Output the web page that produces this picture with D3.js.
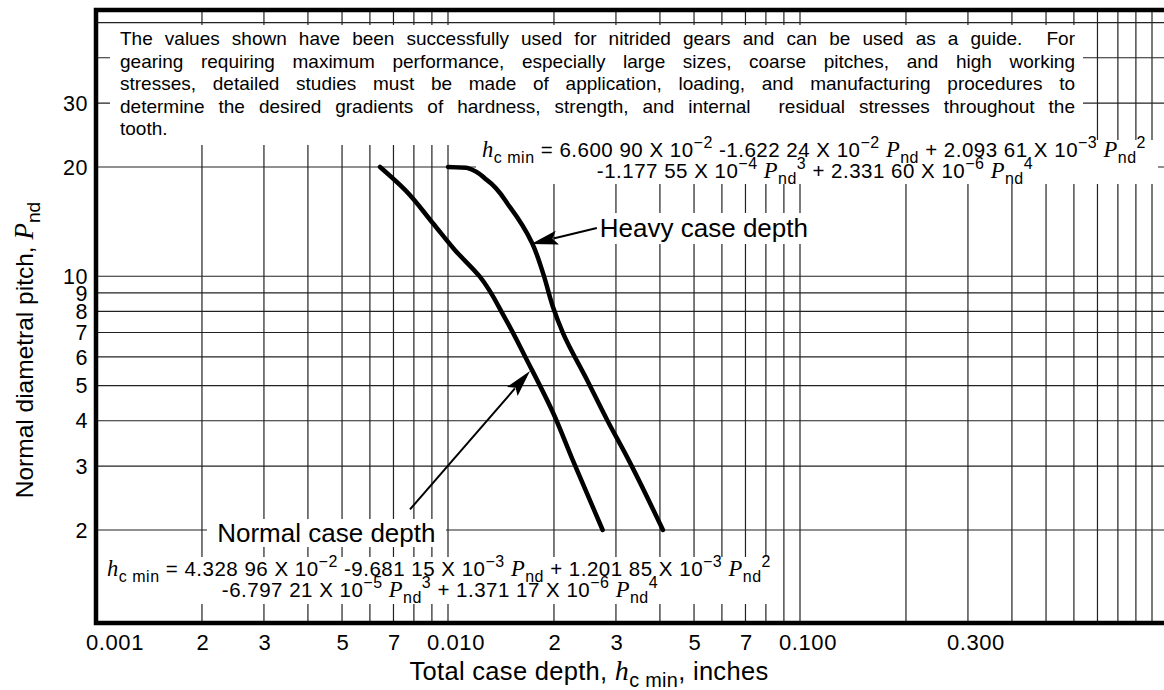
<!DOCTYPE html>
<html>
<head>
<meta charset="utf-8">
<title>Case depth for nitrided gears</title>
<script src="https://d3js.org/d3.v7.min.js"></script>
<style>
  body { margin: 0; background: #fff; }
  text { font-family: "Liberation Sans", Arial, sans-serif; fill: #000; }
</style>
</head>
<body>
<div id="chart"></div>
<script>
// ---- data ----
// normal case depth curve (P_nd -> h_c min, inches)
var normalPitch = [20, 17.3, 14.0, 11.8, 9.96, 7.67, 5.88, 4.2, 3.12, 2.0];
var normalDepth = [0.00641, 0.00755, 0.00906, 0.01047, 0.01233, 0.01452, 0.01675, 0.0199, 0.0226, 0.0275];
// heavy case depth curve
var heavyPitch = [20, 19.9, 18.4, 15.5, 12.35, 10.2, 8.23, 6.97, 5.18, 4.02, 3.18, 2.0];
var heavyDepth = [0.0100, 0.01133, 0.01291, 0.0150, 0.01733, 0.01862, 0.01987, 0.02122, 0.02483, 0.02832, 0.03225, 0.0408];

var xTickValues = [0.001, 0.002, 0.003, 0.005, 0.007, 0.01, 0.02, 0.03, 0.05, 0.07, 0.1, 0.3];
var xTickLabels = ["0.001", "2", "3", "5", "7", "0.010", "2", "3", "5", "7", "0.100", "0.300"];
var yTickValues = [2, 3, 4, 5, 6, 7, 8, 9, 10, 20, 30];
var yGridValues = [2, 3, 4, 5, 6, 7, 8, 9, 10, 20, 30, 40, 50];

var noteLines = [
  "The values shown have been successfully used for nitrided gears and can be used as a guide.  For",
  "gearing requiring maximum performance, especially large sizes, coarse pitches, and high working",
  "stresses, detailed studies must be made of application, loading, and manufacturing procedures to",
  "determine the desired gradients of hardness, strength, and internal  residual stresses throughout the",
  "tooth."
];

// ---- layout ----
var W = 1164, H = 690;
var plotLeft = 96, plotTop = 10, plotBottom = 623;
var serif = "'Liberation Serif', 'Times New Roman', serif";

var x = d3.scaleLog().domain([0.001, 1]).range([plotLeft, 1152]);
var y = d3.scaleLog().domain([2, 20]).range([530, 167]);

var svg = d3.select("#chart").append("svg")
    .attr("width", W)
    .attr("height", H);

// grid
var grid = svg.append("g").attr("stroke", "#222").attr("stroke-width", 1.2);
grid.selectAll(".vg")
    .data(x.ticks())
  .enter().append("line")
    .attr("x1", function(d) { return x(d); })
    .attr("x2", function(d) { return x(d); })
    .attr("y1", plotTop)
    .attr("y2", plotBottom);
grid.selectAll(".hg")
    .data(yGridValues)
  .enter().append("line")
    .attr("x1", plotLeft)
    .attr("x2", W)
    .attr("y1", function(d) { return y(d); })
    .attr("y2", function(d) { return y(d); });

// white panels behind the notes (x0, y0, x1, y1 in px)
var panels = [
  [110, 25, 1083, 145],   // paragraph
  [476, 140, 1158, 184],  // heavy equation
  [99, 557, 776, 604],    // normal equation
  [596, 213, 816, 244],   // heavy label
  [207, 519, 446, 547]    // normal label
];
svg.append("g").selectAll("rect")
    .data(panels)
  .enter().append("rect")
    .attr("x", function(d) { return d[0]; })
    .attr("y", function(d) { return d[1]; })
    .attr("width", function(d) { return d[2] - d[0]; })
    .attr("height", function(d) { return d[3] - d[1]; })
    .attr("fill", "#fff");

// rich text helper: parts = [[string, kind]]
function rich(textSel, parts, size) {
  var shift = 0;
  parts.forEach(function(p) {
    var ts = textSel.append("tspan").text(p[0]);
    var target = 0, fs = size;
    if (p[1] === "sub") { target = 0.28 * size; fs = 0.78 * size; }
    if (p[1] === "sup") { target = -0.45 * size; fs = 0.78 * size; }
    if (p[1] === "it") { ts.style("font-family", serif).attr("font-style", "italic"); fs = 1.1 * size; }
    ts.attr("font-size", fs).attr("dy", target - shift);
    shift = target;
  });
}

// note paragraph, justified
var noteX = 120, noteW = 955, noteY = 45, lh = 22.5;
noteLines.forEach(function(s, i) {
  var t = svg.append("text")
      .attr("x", noteX)
      .attr("y", noteY + i * lh)
      .attr("font-size", 19)
      .style("white-space", "pre")
      .text(s);
  if (i < noteLines.length - 1) {
    var w = t.node().getComputedTextLength();
    var n = (s.match(/ /g) || []).length;
    t.style("word-spacing", ((noteW - w) / n) + "px");
  }
});

// heavy equation
var eqSize = 20.5;
var eqH = svg.append("g").attr("letter-spacing", 0.5);
rich(eqH.append("text").attr("x", 814).attr("y", 157).attr("text-anchor", "middle"), [
  ["h", "it"], ["c min", "sub"], [" = 6.600 90 X 10", ""], ["\u22122", "sup"],
  [" -1.622 24 X 10", ""], ["\u22122", "sup"], [" ", ""], ["P", "it"], ["nd", "sub"],
  [" + 2.093 61 X 10", ""], ["\u22123", "sup"], [" ", ""], ["P", "it"], ["nd", "sub"], ["2", "sup"]
], eqSize);
rich(eqH.append("text").attr("x", 815).attr("y", 178).attr("text-anchor", "middle"), [
  ["-1.177 55 X 10", ""], ["\u22124", "sup"], [" ", ""], ["P", "it"], ["nd", "sub"], ["3", "sup"],
  [" + 2.331 60 X 10", ""], ["\u22126", "sup"], [" ", ""], ["P", "it"], ["nd", "sub"], ["4", "sup"]
], eqSize);

// normal equation
var eqN = svg.append("g").attr("letter-spacing", 0.5);
rich(eqN.append("text").attr("x", 439).attr("y", 576).attr("text-anchor", "middle"), [
  ["h", "it"], ["c min", "sub"], [" = 4.328 96 X 10", ""], ["\u22122", "sup"],
  [" -9.681 15 X 10", ""], ["\u22123", "sup"], [" ", ""], ["P", "it"], ["nd", "sub"],
  [" + 1.201 85 X 10", ""], ["\u22123", "sup"], [" ", ""], ["P", "it"], ["nd", "sub"], ["2", "sup"]
], eqSize);
rich(eqN.append("text").attr("x", 440).attr("y", 597).attr("text-anchor", "middle"), [
  ["-6.797 21 X 10", ""], ["\u22125", "sup"], [" ", ""], ["P", "it"], ["nd", "sub"], ["3", "sup"],
  [" + 1.371 17 X 10", ""], ["\u22126", "sup"], [" ", ""], ["P", "it"], ["nd", "sub"], ["4", "sup"]
], eqSize);

// curve labels
svg.append("text").attr("x", x(0.0270)).attr("y", y(12.83)).attr("font-size", 26).text("Heavy case depth");
svg.append("text").attr("x", x(0.00221)).attr("y", y(1.85)).attr("font-size", 26).text("Normal case depth");

// curves
var line = d3.line()
    .x(function(d) { return x(d[0]); })
    .y(function(d) { return y(d[1]); })
    .curve(d3.curveMonotoneY);

[[normalDepth, normalPitch], [heavyDepth, heavyPitch]].forEach(function(s) {
  svg.append("path")
    .attr("d", line(d3.zip(s[0], s[1])))
    .attr("fill", "none")
    .attr("stroke", "#000")
    .attr("stroke-width", 4.5)
    .attr("stroke-linecap", "round")
    .attr("stroke-linejoin", "round");
});

// arrows (from label to curve), in data units
function arrow(from, to) {
  var x0 = x(from[0]), y0 = y(from[1]), x1 = x(to[0]), y1 = y(to[1]);
  var dx = x1 - x0, dy = y1 - y0, L = Math.sqrt(dx * dx + dy * dy);
  var ux = dx / L, uy = dy / L, hl = 27, hw = 7;
  var bx = x1 - ux * hl, by = y1 - uy * hl;
  svg.append("line")
    .attr("x1", x0).attr("y1", y0).attr("x2", bx + ux * 4).attr("y2", by + uy * 4)
    .attr("stroke", "#000").attr("stroke-width", 2);
  svg.append("polygon")
    .attr("points", [[x1, y1], [bx - uy * hw, by + ux * hw], [bx + ux * 5, by + uy * 5], [bx + uy * hw, by - ux * hw]].join(" "))
    .attr("fill", "#000");
}
arrow([0.02648, 13.58], [0.01722, 12.27]);
arrow([0.0078, 2.28], [0.0171, 5.48]);

// frame
svg.append("path")
    .attr("d", "M" + W + "," + plotTop + "H" + plotLeft + "V" + plotBottom + "H" + W)
    .attr("fill", "none")
    .attr("stroke", "#000")
    .attr("stroke-width", 4.5);

// tick labels
svg.selectAll(".xl")
    .data(xTickValues)
  .enter().append("text")
    .attr("x", function(d, i) { return x(d) + (i === 0 ? 19 : (xTickLabels[i].length > 1 ? 8 : 1)); })
    .attr("y", 650)
    .attr("text-anchor", "middle")
    .attr("font-size", 22)
    .attr("letter-spacing", 0.6)
    .text(function(d, i) { return xTickLabels[i]; });

svg.selectAll(".yl")
    .data(yTickValues)
  .enter().append("text")
    .attr("x", 88)
    .attr("y", function(d) { return y(d); })
    .attr("dy", "0.36em")
    .attr("text-anchor", "end")
    .attr("font-size", 21.5)
    .attr("letter-spacing", 0.5)
    .text(function(d) { return d; });

// axis titles
rich(svg.append("text").attr("x", 589).attr("y", 680).attr("text-anchor", "middle").attr("letter-spacing", 0.3), [
  ["Total case depth, ", ""], ["h", "it"], ["c min", "sub"], [", inches", ""]
], 25.5);

rich(svg.append("text").attr("transform", "translate(33,350) rotate(-90)").attr("text-anchor", "middle"), [
  ["Normal diametral pitch, ", ""], ["P", "it"], ["nd", "sub"]
], 24.5);
</script>
</body>
</html>
